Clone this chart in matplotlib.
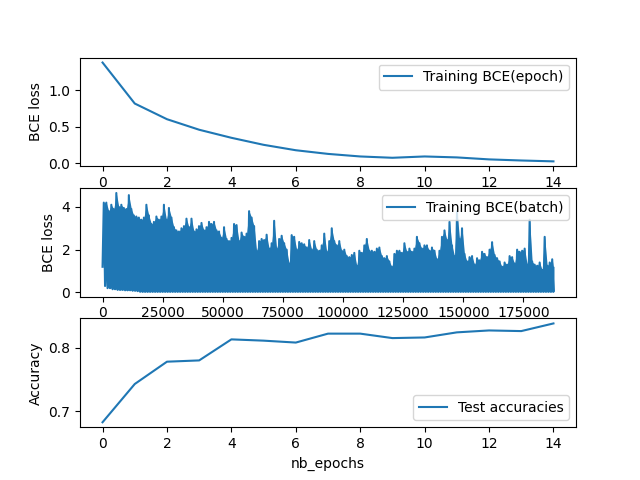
import numpy as np
import matplotlib
matplotlib.use("Agg")
import matplotlib.pyplot as plt

# ---- Data ----
epochs = list(range(15))
epoch_loss = [1.378, 0.818, 0.604, 0.46, 0.35, 0.254, 0.18, 0.13, 0.095,
              0.077, 0.095, 0.082, 0.055, 0.04, 0.028]
test_acc = [0.683, 0.743, 0.778, 0.78, 0.813, 0.811, 0.808, 0.822, 0.822,
            0.815, 0.816, 0.824, 0.827, 0.826, 0.838]

# batch loss: 187500 batches, summarised as the top / bottom of the
# band in 181 slices (one every ~1042 batches)
n_batches = 187500
batch_hi = [
    4.2, 4.2, 3.8, 4.1, 3.9, 4.65, 4.0, 4.1, 3.95, 3.9,
    4.55, 3.9, 3.6, 3.55, 3.5, 3.4, 3.5, 4.1, 3.6, 3.2,
    3.3, 3.55, 3.4, 3.55, 4.1, 3.4, 3.95, 3.5, 3.05, 2.9,
    2.85, 3.0, 3.1, 3.45, 3.05, 3.45, 2.85, 2.95, 3.1, 3.25,
    2.9, 3.05, 3.3, 3.2, 3.3,
    2.9, 2.85, 2.55, 3.05, 2.5, 2.4, 2.55, 3.2, 3.15, 2.4,
    2.8, 2.6, 2.75, 3.8, 3.5, 3.1, 1.95, 2.4, 2.5, 2.45,
    2.7, 2.05, 2.3, 3.35, 2.05, 2.5, 2.65, 2.3, 2.0, 1.35,
    2.68, 2.6, 2.0, 2.36, 2.3, 2.25, 2.1, 2.45, 2.0, 2.4,
    2.0, 1.95, 2.2, 2.75, 1.9,
    2.4, 3.0, 2.4, 2.2, 2.4, 1.95, 2.0, 1.7, 1.65, 1.75,
    1.85, 1.25, 1.95, 1.85, 2.2, 2.5, 1.95, 1.95, 1.9, 2.05,
    2.1, 1.7, 1.6, 1.7, 1.45, 1.2, 1.8, 1.95, 1.95, 1.85,
    2.3, 1.9, 2.05, 1.9, 2.05, 2.6, 2.3, 2.05, 2.2, 2.2,
    1.95, 2.1, 1.95, 1.55, 1.95, 2.6,
    2.9, 2.45, 3.3, 2.2, 1.7, 3.8, 2.5, 3.0, 1.8, 1.45,
    1.65, 1.7, 1.3, 1.6, 1.5, 1.9, 1.8, 1.65, 2.0, 2.35,
    1.75, 1.6, 1.45, 1.2, 1.4, 1.3, 1.7, 1.65, 1.35, 2.0,
    1.9, 1.95, 2.05, 1.3, 3.4, 1.45, 1.3, 1.25, 1.4, 1.05,
    2.6, 1.25, 1.4, 1.55, 1.15,
]
batch_lo = [1.2, 0.3, 0.2, 0.2, 0.15, 0.15, 0.12, 0.12, 0.12, 0.1,
            0.1, 0.1, 0.08, 0.08, 0.06] + [0.03] * 166

# ---- Build the batch curve: each slice swings from its low to its high ----
hi = np.array(batch_hi)
lo = np.array(batch_lo)
step = n_batches / (len(hi) - 1)
xs = np.arange(len(hi)) * step
peak_x = np.minimum(xs + step / 2, n_batches)
batch_x = np.empty(2 * len(hi))
batch_y = np.empty(2 * len(hi))
batch_x[0::2] = xs
batch_x[1::2] = peak_x
batch_y[0::2] = lo
batch_y[1::2] = hi

# ---- Plot ----
fig, (ax1, ax2, ax3) = plt.subplots(3, 1, figsize=(6.4, 4.8), dpi=100)

ax1.plot(epochs, epoch_loss, label="Training BCE(epoch)")
ax1.set_ylabel("BCE loss")
ax1.legend(loc="upper right")

line, = ax2.plot(batch_x, batch_y, label="Training BCE(batch)")
# the dense band between the slice lows and highs
ax2.fill_between(peak_x, lo, hi, color=line.get_color(), linewidth=0)
ax2.set_ylabel("BCE loss")
ax2.legend(loc="upper right")

ax3.plot(epochs, test_acc, label="Test accuracies")
ax3.set_ylabel("Accuracy")
ax3.set_xlabel("nb_epochs")
ax3.legend(loc="lower right")

plt.savefig("out.png", dpi=100)
plt.close()
